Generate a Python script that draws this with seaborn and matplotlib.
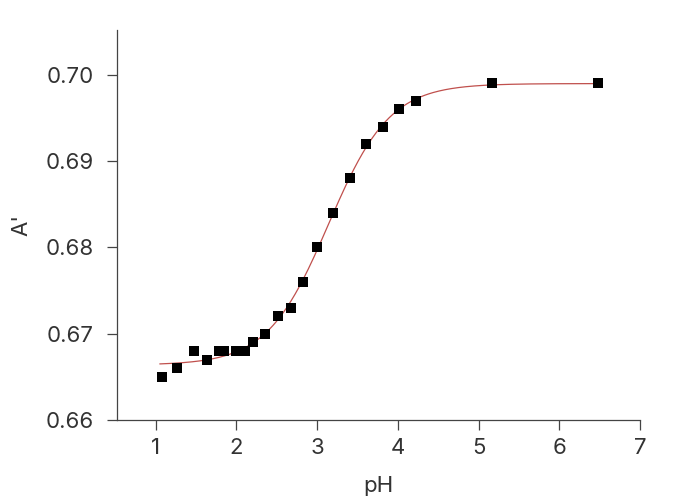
import numpy as np
import pandas as pd
import matplotlib
matplotlib.use('Agg')
import matplotlib.pyplot as plt
import seaborn as sns

ph = [1.08, 1.26, 1.47, 1.64, 1.78, 1.84, 1.99, 2.10, 2.21, 2.35,
      2.51, 2.67, 2.83, 3.00, 3.20, 3.41, 3.60, 3.81, 4.01, 4.22,
      5.17, 6.48]
absorb = [0.665, 0.666, 0.668, 0.667, 0.668, 0.668, 0.668, 0.668, 0.669, 0.670,
          0.672, 0.673, 0.676, 0.680, 0.684, 0.688, 0.692, 0.694, 0.696, 0.697,
          0.699, 0.699]
x_ticks = [1, 2, 3, 4, 5, 6, 7]
y_ticks = [0.66, 0.67, 0.68, 0.69, 0.70]

df = pd.DataFrame({'pH': ph, 'A': absorb})


# Boltzmann fit: grid over x0/dx, amplitudes by linear least squares
def boltzmann_fit(x, y):
    best = None
    for x0 in np.arange(2.5, 3.8, 0.01):
        for dx in np.arange(0.15, 0.8, 0.01):
            s = 1.0 / (1.0 + np.exp((x - x0) / dx))
            M = np.column_stack([s, 1 - s])
            coef, res, _, _ = np.linalg.lstsq(M, y, rcond=None)
            err = np.sum((M @ coef - y) ** 2)
            if best is None or err < best[0]:
                best = (err, x0, dx, coef)
    return best[1:]


x = np.array(ph)
y = np.array(absorb)
x0, dx, (a1, a2) = boltzmann_fit(x, y)
xf = np.linspace(x.min() - 0.03, x.max() + 0.02, 300)
sf = 1.0 / (1.0 + np.exp((xf - x0) / dx))
fit = pd.DataFrame({'pH': xf, 'A': a1 * sf + a2 * (1 - sf)})

sns.set_style('ticks')
plt.rcParams['font.family'] = ['Inter', 'DejaVu Sans']

fig = plt.figure(figsize=(6.79, 5.0), dpi=100)
ax = fig.add_axes([0.1723, 0.16, 0.7703, 0.78])

sns.lineplot(data=fit, x='pH', y='A', ax=ax, color='#c0504d', linewidth=0.9)
sns.scatterplot(data=df, x='pH', y='A', ax=ax, marker='s', s=50,
                color='black', edgecolor='black', linewidth=0, zorder=3)

ax.set_xlim(0.52, 7.0)
ax.set_ylim(0.66, 0.7052)
ax.set_xticks(x_ticks)
ax.set_yticks(y_ticks)
ax.set_yticklabels(['%.2f' % v for v in y_ticks])
ax.set_xlabel('pH', fontsize=16, color='#333333', labelpad=13)
ax.set_ylabel("A'", fontsize=16, color='#333333', labelpad=10)
ax.tick_params(labelsize=16, colors='#444444', length=7, width=0.9,
               pad=6, labelcolor='#333333')
ax.tick_params(axis='y', pad=10)
for side in ['left', 'bottom']:
    ax.spines[side].set_color('#444444')
    ax.spines[side].set_linewidth(0.9)
sns.despine(ax=ax)

fig.savefig('out.png', dpi=100)
